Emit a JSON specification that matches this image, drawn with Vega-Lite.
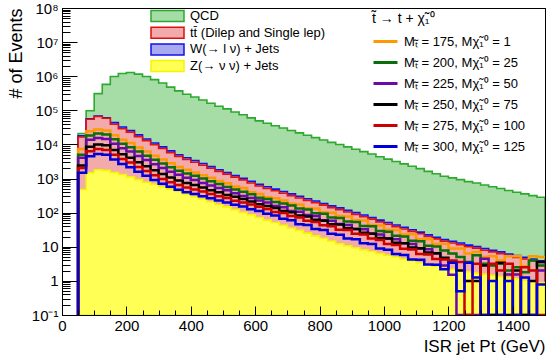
{
  "$schema": "https://vega.github.io/schema/vega-lite/v6.json",
  "width": 483,
  "height": 307,
  "autosize": "none",
  "padding": {"left": 62, "top": 8, "right": 3, "bottom": 45},
  "background": "white",
  "config": {
    "font": "Liberation Sans",
    "view": {"stroke": "black", "strokeWidth": 1},
    "mark": {"invalid": "show"},
    "axis": {"labelColor": "black", "titleColor": "black", "tickColor": "black", "domainColor": "black", "grid": false, "labelFont": "Liberation Sans", "titleFont": "Liberation Sans"},
    "legend": {"labelColor": "black", "titleColor": "black", "labelFont": "Liberation Sans", "titleFont": "Liberation Sans"}
  },
  "data": {"values": [
    {"lo":25,"hi":50,"qcd":0,"w":0,"tt":0,"z":0,"m175":0,"m200":0,"m225":0,"m250":0,"m275":0,"m300":0},
    {"lo":50,"hi":75,"qcd":20900,"w":17800,"tt":16600,"z":479,"m175":7410,"m200":5010,"m225":4070,"m250":2400,"m275":2040,"m300":1480},
    {"lo":75,"hi":100,"qcd":97700,"w":56200,"tt":55000,"z":1480,"m175":24500,"m200":18200,"m225":13800,"m250":8510,"m275":6310,"m300":4470},
    {"lo":100,"hi":125,"qcd":309000,"w":67600,"tt":66100,"z":1820,"m175":27500,"m200":20900,"m225":15500,"m250":10000,"m275":7410,"m300":5250},
    {"lo":125,"hi":150,"qcd":575000,"w":60300,"tt":58900,"z":1740,"m175":25700,"m200":19500,"m225":14500,"m250":9550,"m275":6920,"m300":5010},
    {"lo":150,"hi":175,"qcd":977000,"w":43700,"tt":38900,"z":1510,"m175":18600,"m200":14100,"m225":10500,"m250":6920,"m275":5010,"m300":3630},
    {"lo":175,"hi":200,"qcd":1200000,"w":32400,"tt":28800,"z":1320,"m175":13800,"m200":10500,"m225":7760,"m250":5130,"m275":3720,"m300":2690},
    {"lo":200,"hi":225,"qcd":1290000,"w":25700,"tt":22900,"z":1120,"m175":11000,"m200":8320,"m225":6170,"m250":4070,"m275":2950,"m300":2140},
    {"lo":225,"hi":250,"qcd":1150000,"w":19100,"tt":17000,"z":933,"m175":8130,"m200":6170,"m225":4570,"m250":3020,"m275":2190,"m300":1580},
    {"lo":250,"hi":275,"qcd":977000,"w":14500,"tt":12900,"z":776,"m175":6170,"m200":4680,"m225":3470,"m250":2290,"m275":1660,"m300":1200},
    {"lo":275,"hi":300,"qcd":794000,"w":11000,"tt":9770,"z":676,"m175":4680,"m200":3550,"m225":2630,"m250":1740,"m275":1260,"m300":912},
    {"lo":300,"hi":325,"qcd":631000,"w":8510,"tt":7590,"z":575,"m175":3630,"m200":2750,"m225":2040,"m250":1350,"m275":977,"m300":708},
    {"lo":325,"hi":350,"qcd":479000,"w":6460,"tt":5750,"z":490,"m175":2820,"m200":2140,"m225":1580,"m250":1070,"m275":776,"m300":575},
    {"lo":350,"hi":375,"qcd":372000,"w":5010,"tt":4470,"z":417,"m175":2190,"m200":1700,"m225":1290,"m250":871,"m275":646,"m300":468},
    {"lo":375,"hi":400,"qcd":295000,"w":4070,"tt":3630,"z":355,"m175":1820,"m200":1410,"m225":1050,"m250":741,"m275":550,"m300":398},
    {"lo":400,"hi":425,"qcd":245000,"w":3390,"tt":3020,"z":295,"m175":1510,"m200":1200,"m225":912,"m250":646,"m275":479,"m300":355},
    {"lo":425,"hi":450,"qcd":200000,"w":2750,"tt":2450,"z":251,"m175":1260,"m200":1000,"m225":741,"m250":550,"m275":417,"m300":302},
    {"lo":450,"hi":475,"qcd":162000,"w":2240,"tt":2000,"z":209,"m175":1050,"m200":832,"m225":631,"m250":457,"m275":355,"m300":263},
    {"lo":475,"hi":500,"qcd":132000,"w":1820,"tt":1620,"z":174,"m175":851,"m200":692,"m225":525,"m250":398,"m275":302,"m300":229},
    {"lo":500,"hi":525,"qcd":110000,"w":1510,"tt":1350,"z":148,"m175":724,"m200":562,"m225":457,"m250":331,"m275":269,"m300":200},
    {"lo":525,"hi":550,"qcd":89100,"w":1230,"tt":1100,"z":123,"m175":589,"m200":479,"m225":372,"m250":295,"m275":224,"m300":170},
    {"lo":550,"hi":575,"qcd":74100,"w":1020,"tt":912,"z":102,"m175":525,"m200":407,"m225":309,"m250":251,"m275":200,"m300":151},
    {"lo":575,"hi":600,"qcd":60300,"w":832,"tt":741,"z":87.1,"m175":398,"m200":347,"m225":269,"m250":214,"m275":174,"m300":126},
    {"lo":600,"hi":625,"qcd":49000,"w":676,"tt":603,"z":72.4,"m175":355,"m200":275,"m225":229,"m250":178,"m275":148,"m300":112},
    {"lo":625,"hi":650,"qcd":41700,"w":575,"tt":513,"z":60.3,"m175":282,"m200":251,"m225":200,"m250":158,"m275":129,"m300":93.3},
    {"lo":650,"hi":675,"qcd":35500,"w":490,"tt":437,"z":51.3,"m175":263,"m200":204,"m225":158,"m250":138,"m275":105,"m300":83.2},
    {"lo":675,"hi":700,"qcd":30200,"w":417,"tt":372,"z":42.7,"m175":229,"m200":186,"m225":145,"m250":112,"m275":97.7,"m300":66.1},
    {"lo":700,"hi":725,"qcd":25700,"w":355,"tt":316,"z":35.5,"m175":182,"m200":162,"m225":112,"m250":102,"m275":79.4,"m300":60.3},
    {"lo":725,"hi":750,"qcd":21900,"w":302,"tt":269,"z":30.2,"m175":174,"m200":132,"m225":107,"m250":83.2,"m275":72.4,"m300":45.7},
    {"lo":750,"hi":775,"qcd":18600,"w":257,"tt":229,"z":25.1,"m175":135,"m200":123,"m225":85.1,"m250":77.6,"m275":57.5,"m300":43.7},
    {"lo":775,"hi":800,"qcd":15800,"w":219,"tt":195,"z":20.9,"m175":132,"m200":95.5,"m225":79.4,"m250":61.7,"m275":53.7,"m300":33.1},
    {"lo":800,"hi":825,"qcd":13500,"w":186,"tt":166,"z":17.8,"m175":102,"m200":93.3,"m225":60.3,"m250":57.5,"m275":42.7,"m300":30.9},
    {"lo":825,"hi":850,"qcd":11500,"w":158,"tt":141,"z":14.8,"m175":100,"m200":72.4,"m225":57.5,"m250":45.7,"m275":39.8,"m300":24.0},
    {"lo":850,"hi":875,"qcd":10000,"w":138,"tt":123,"z":12.3,"m175":79.4,"m200":69.2,"m225":46.8,"m250":44.7,"m275":31.6,"m300":22.4},
    {"lo":875,"hi":900,"qcd":8510,"w":117,"tt":105,"z":10.7,"m175":77.6,"m200":55.0,"m225":43.7,"m250":34.7,"m275":30.9,"m300":17.4},
    {"lo":900,"hi":925,"qcd":7240,"w":100,"tt":89.1,"z":9.33,"m175":60.3,"m200":53.7,"m225":33.1,"m250":33.1,"m275":24.0,"m300":16.6},
    {"lo":925,"hi":950,"qcd":6170,"w":85.1,"tt":75.9,"z":8.13,"m175":58.9,"m200":40.7,"m225":32.4,"m250":25.7,"m275":22.9,"m300":12.6},
    {"lo":950,"hi":975,"qcd":5250,"w":72.4,"tt":64.6,"z":7.24,"m175":43.7,"m200":39.8,"m225":24.5,"m250":24.0,"m275":17.4,"m300":12.0},
    {"lo":975,"hi":1000,"qcd":4370,"w":60.3,"tt":53.7,"z":6.31,"m175":41.7,"m200":28.8,"m225":22.9,"m250":18.2,"m275":15.8,"m300":8.91},
    {"lo":1000,"hi":1025,"qcd":3720,"w":51.3,"tt":45.7,"z":5.62,"m175":31.6,"m200":27.5,"m225":17.4,"m250":17.4,"m275":12.0,"m300":8.13},
    {"lo":1025,"hi":1050,"qcd":3160,"w":43.7,"tt":38.9,"z":5.01,"m175":30.9,"m200":20.9,"m225":16.6,"m250":13.2,"m275":11.2,"m300":6.17},
    {"lo":1050,"hi":1075,"qcd":2690,"w":37.2,"tt":33.1,"z":4.37,"m175":22.9,"m200":20.0,"m225":12.6,"m250":12.6,"m275":8.71,"m300":5.75},
    {"lo":1075,"hi":1100,"qcd":2290,"w":31.6,"tt":28.2,"z":3.89,"m175":23.4,"m200":15.1,"m225":12.0,"m250":9.55,"m275":8.32,"m300":4.27},
    {"lo":1100,"hi":1125,"qcd":1950,"w":26.9,"tt":24.0,"z":3.39,"m175":16.6,"m200":14.5,"m225":8.91,"m250":9.12,"m275":6.17,"m300":4.17},
    {"lo":1125,"hi":1150,"qcd":1620,"w":22.4,"tt":20.0,"z":3.02,"m175":16.6,"m200":10.7,"m225":8.51,"m250":6.76,"m275":5.89,"m300":3.02},
    {"lo":1150,"hi":1175,"qcd":1380,"w":19.1,"tt":17.0,"z":2.69,"m175":12.0,"m200":10.2,"m225":6.31,"m250":6.46,"m275":4.37,"m300":2.95},
    {"lo":1175,"hi":1200,"qcd":1170,"w":16.2,"tt":14.5,"z":2.34,"m175":12.3,"m200":7.76,"m225":2.82,"m250":4.79,"m275":4.27,"m300":2.19},
    {"lo":1200,"hi":1225,"qcd":1050,"w":14.5,"tt":12.9,"z":2.19,"m175":8.91,"m200":6.31,"m225":1.51,"m250":3.55,"m275":3.98,"m300":3.39},
    {"lo":1225,"hi":1250,"qcd":933,"w":12.9,"tt":11.5,"z":2.0,"m175":8.91,"m200":5.01,"m225":0,"m250":2.0,"m275":3.55,"m300":0.5},
    {"lo":1250,"hi":1275,"qcd":813,"w":11.2,"tt":10.0,"z":1.86,"m175":6.31,"m200":3.55,"m225":0,"m250":1.0,"m275":0,"m300":3.39},
    {"lo":1275,"hi":1300,"qcd":741,"w":10.2,"tt":9.12,"z":1.70,"m175":7.08,"m200":5.62,"m225":0,"m250":1.0,"m275":3.16,"m300":1.26},
    {"lo":1300,"hi":1325,"qcd":646,"w":8.91,"tt":7.94,"z":1.58,"m175":5.01,"m200":3.16,"m225":4.47,"m250":2.82,"m275":0,"m300":0},
    {"lo":1325,"hi":1350,"qcd":575,"w":7.94,"tt":7.08,"z":1.45,"m175":5.25,"m200":2.82,"m225":0,"m250":0,"m275":3.16,"m300":1.0},
    {"lo":1350,"hi":1375,"qcd":513,"w":7.08,"tt":6.31,"z":1.35,"m175":3.98,"m200":3.16,"m225":0,"m250":3.39,"m275":2.0,"m300":0},
    {"lo":1375,"hi":1400,"qcd":447,"w":6.17,"tt":5.50,"z":1.23,"m175":5.25,"m200":2.0,"m225":1.55,"m250":0,"m275":3.16,"m300":1.0},
    {"lo":1400,"hi":1425,"qcd":398,"w":5.50,"tt":4.90,"z":1.15,"m175":5.25,"m200":2.51,"m225":1.55,"m250":2.0,"m275":0,"m300":0},
    {"lo":1425,"hi":1450,"qcd":355,"w":4.90,"tt":4.37,"z":1.05,"m175":2.69,"m200":1.78,"m225":0,"m250":0,"m275":2.51,"m300":1.26},
    {"lo":1450,"hi":1475,"qcd":316,"w":4.37,"tt":3.89,"z":0.98,"m175":5.25,"m200":3.98,"m225":0,"m250":1.0,"m275":2.0,"m300":0},
    {"lo":1475,"hi":1500,"qcd":282,"w":3.89,"tt":3.47,"z":0.89,"m175":5.01,"m200":2.82,"m225":2.0,"m250":3.55,"m275":0,"m300":0.79}
  ]},
  "resolve": {"axis": {"x": "independent", "y": "independent"}},
  "layer": [
    {
      "transform": [{"fold": ["qcd", "w", "tt", "z"], "as": ["sample", "events"]}],
      "mark": {"type": "area", "interpolate": "step-before", "strokeWidth": 1.6, "opacity": 1, "fillOpacity": 1, "clip": true},
      "encoding": {
        "x": {"field": "hi", "type": "quantitative", "scale": {"domain": [0, 1500], "nice": false, "zero": false},
          "axis": {
            "values": [0,50,100,150,200,250,300,350,400,450,500,550,600,650,700,750,800,850,900,950,1000,1050,1100,1150,1200,1250,1300,1350,1400,1450,1500],
            "format": "d",
            "labelExpr": "datum.value % 200 === 0 ? datum.label : ''",
            "tickSize": {"condition": {"test": "datum.value % 200 === 0", "value": -9}, "value": -5},
            "labelFontSize": 15, "labelPadding": 12, "labelOverlap": false, "labelFlush": false,
            "title": "ISR jet Pt (GeV)", "titleFontSize": 17, "titleFontWeight": "normal",
            "titleX": 483, "titleY": 31, "titleAlign": "right", "titleBaseline": "middle", "titleAnchor": "end",
            "domain": true, "zindex": 1
          }},
        "y": {"field": "events", "type": "quantitative", "stack": null,
          "scale": {"type": "log", "domain": [0.1, 100000000], "clamp": true, "nice": false},
          "axis": {
            "values": [0.1,0.2,0.3,0.4,0.5,0.6,0.7,0.8,0.9,1,2,3,4,5,6,7,8,9,10,20,30,40,50,60,70,80,90,100,200,300,400,500,600,700,800,900,1000,2000,3000,4000,5000,6000,7000,8000,9000,10000,20000,30000,40000,50000,60000,70000,80000,90000,100000,200000,300000,400000,500000,600000,700000,800000,900000,1000000,2000000,3000000,4000000,5000000,6000000,7000000,8000000,9000000,10000000,20000000,30000000,40000000,50000000,60000000,70000000,80000000,90000000,100000000],
            "labelExpr": "abs(log(datum.value)/LN10 - round(log(datum.value)/LN10)) > 0.001 ? '' : (round(log(datum.value)/LN10) == 0 ? '1' : round(log(datum.value)/LN10) == 1 ? '10' : '10' + ['\u207b\u00b9','','','\u00b2','\u00b3','\u2074','\u2075','\u2076','\u2077','\u2078'][round(log(datum.value)/LN10) + 1])",
            "tickSize": {"condition": {"test": "abs(log(datum.value)/LN10 - round(log(datum.value)/LN10)) < 0.001", "value": -15}, "value": -8},
            "labelFontSize": 15, "labelPadding": 19, "labelOverlap": false, "labelFlush": false, "labelBaseline": "middle",
            "title": "# of Events", "titleFontSize": 18, "titleFontWeight": "normal", "titleAngle": -90,
            "titleX": -46, "titleY": 0, "titleAlign": "right", "titleBaseline": "middle", "titleAnchor": "end",
            "domain": true, "zindex": 1
          }},
        "y2": {"datum": 0.1},
        "fill": {"field": "sample", "type": "nominal",
          "scale": {"domain": ["qcd", "tt", "w", "z"], "range": ["#a6dca6", "#f3aaaa", "#a9a9f0", "#ffff55"]},
          "legend": {"orient": "none", "legendX": 99, "legendY": 1.5, "title": null,
            "symbolType": "M-3,-1H3V1H-3Z", "symbolSize": 121, "symbolStrokeWidth": 1.5,
            "labelFontSize": 13, "labelOffset": 16, "rowPadding": -0.3,
            "labelExpr": "datum.label == 'qcd' ? 'QCD' : datum.label == 'tt' ? 't\u0074\u0304 (Dilep and Single lep)' : datum.label == 'w' ? 'W(\u2192 l \u03bd) + Jets' : 'Z(\u2192 \u03bd \u03bd) + Jets'"}},
        "stroke": {"field": "sample", "type": "nominal",
          "scale": {"domain": ["qcd", "tt", "w", "z"], "range": ["#2ea82e", "#dd1111", "#1111ee", "#f5f500"]},
          "legend": {"orient": "none", "legendX": 99, "legendY": 1.5, "title": null,
            "symbolType": "M-3,-1H3V1H-3Z", "symbolSize": 121, "symbolStrokeWidth": 1.5,
            "labelFontSize": 13, "labelOffset": 16, "rowPadding": -0.3,
            "labelExpr": "datum.label == 'qcd' ? 'QCD' : datum.label == 'tt' ? 't\u0074\u0304 (Dilep and Single lep)' : datum.label == 'w' ? 'W(\u2192 l \u03bd) + Jets' : 'Z(\u2192 \u03bd \u03bd) + Jets'"}}
      }
    },
    {
      "transform": [{"fold": ["m175", "m200", "m225", "m250", "m275", "m300"], "as": ["signal", "events"]}],
      "mark": {"type": "line", "interpolate": "step-before", "strokeWidth": 2.5, "clip": true},
      "encoding": {
        "x": {"field": "hi", "type": "quantitative",
          "axis": {"orient": "top", "labels": false, "ticks": false, "title": null, "domain": true, "zindex": 1}},
        "y": {"field": "events", "type": "quantitative",
          "axis": {"orient": "right", "labels": false, "ticks": false, "title": null, "domain": true, "zindex": 1}},
        "color": {"field": "signal", "type": "nominal",
          "scale": {"domain": ["m175", "m200", "m225", "m250", "m275", "m300"], "range": ["#ff9900", "#0a6e0a", "#6a0aab", "#000000", "#cc0000", "#0000dd"]},
          "legend": {"orient": "none", "legendX": 310, "legendY": 4,
            "title": "t\u0303 \u2192 t + \u03c7\u0303\u2081\u2070", "titleFontSize": 14, "titleFontWeight": "normal", "titlePadding": 2,
            "symbolType": "stroke", "symbolSize": 576, "symbolStrokeWidth": 3,
            "labelFontSize": 13, "labelOffset": 5, "rowPadding": -0.8,
            "labelExpr": "datum.label == 'm175' ? 'M\u209c\u0303 = 175, M\u03c7\u0303\u2081\u2070 = 1' : datum.label == 'm200' ? 'M\u209c\u0303 = 200, M\u03c7\u0303\u2081\u2070 = 25' : datum.label == 'm225' ? 'M\u209c\u0303 = 225, M\u03c7\u0303\u2081\u2070 = 50' : datum.label == 'm250' ? 'M\u209c\u0303 = 250, M\u03c7\u0303\u2081\u2070 = 75' : datum.label == 'm275' ? 'M\u209c\u0303 = 275, M\u03c7\u0303\u2081\u2070 = 100' : 'M\u209c\u0303 = 300, M\u03c7\u0303\u2081\u2070 = 125'"}}
      }
    }
  ]
}
